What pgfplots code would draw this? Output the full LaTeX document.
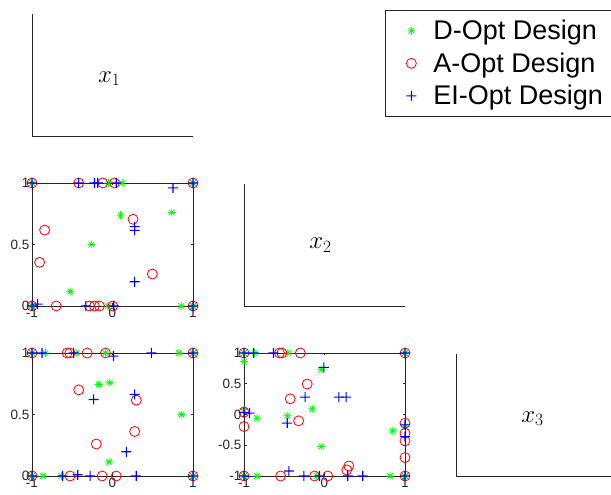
\documentclass[border=0pt]{standalone}
\usepackage{pgfplots}
\pgfplotsset{compat=1.18}
\usepackage{fontspec}
\setmainfont{Liberation Sans}
\definecolor{axgray}{rgb}{0.15,0.15,0.15}
\definecolor{mgreen}{rgb}{0,1,0}
\definecolor{mred}{rgb}{1,0,0}
\definecolor{mblue}{rgb}{0,0,1}
\pgfdeclareplotmark{mstar}{%
  \pgfpathmoveto{\pgfqpoint{-\pgfplotmarksize}{0pt}}\pgfpathlineto{\pgfqpoint{\pgfplotmarksize}{0pt}}%
  \pgfpathmoveto{\pgfqpoint{0pt}{-\pgfplotmarksize}}\pgfpathlineto{\pgfqpoint{0pt}{\pgfplotmarksize}}%
  \pgfpathmoveto{\pgfqpoint{-0.707\pgfplotmarksize}{-0.707\pgfplotmarksize}}\pgfpathlineto{\pgfqpoint{0.707\pgfplotmarksize}{0.707\pgfplotmarksize}}%
  \pgfpathmoveto{\pgfqpoint{-0.707\pgfplotmarksize}{0.707\pgfplotmarksize}}\pgfpathlineto{\pgfqpoint{0.707\pgfplotmarksize}{-0.707\pgfplotmarksize}}%
  \pgfusepathqstroke}
\pgfdeclareplotmark{fplus}{%
  \pgfpathrectangle{\pgfqpoint{-\pgfplotmarksize}{-0.55pt}}{\pgfqpoint{2\pgfplotmarksize}{1.1pt}}%
  \pgfpathrectangle{\pgfqpoint{-0.55pt}{-\pgfplotmarksize}}{\pgfqpoint{1.1pt}{2\pgfplotmarksize}}%
  \pgfusepathqfill}
\pgfplotsset{
  sc/.style={scale only axis, width=161pt, height=123pt, clip=false,
    xmin=-1, xmax=1, xtick={-1,0,1},
    tick align=inside, major tick length=2.5pt, axis line style={axgray, line width=0.6pt},
    tick style={axgray, line width=0.6pt},
    /pgf/number format/assume math mode=true,
    tick label style={font=\fontsize{13.5}{15}\selectfont, text=axgray},
    xticklabel style={yshift=1pt}, yticklabel style={xshift=1pt}},
  dg/.style={scale only axis, width=161pt, height=122pt, xmin=0, xmax=1, ymin=0, ymax=1,
    axis x line*=bottom, axis y line*=left, xtick=\empty, ytick=\empty,
    axis line style={axgray, line width=0.6pt}},
  dopt/.style={only marks, color=mgreen, mark=mstar, mark size=4pt, line width=0.8pt, mark options={solid}},
  aopt/.style={only marks, color=mred, mark=o, mark size=5pt, line width=0.8pt, mark options={solid}},
  eopt/.style={only marks, color=mblue, mark=fplus, mark size=5pt, mark options={solid,fill=mblue,draw=none}},
}
\begin{document}
\begin{tikzpicture}
\useasboundingbox (0pt,0pt) rectangle (611pt,495pt);
% diagonal x1
\begin{axis}[dg, at={(32pt,359pt)}, anchor=south west]
\node at (rel axis cs:0.48,0.47) {\fontsize{24}{26}\selectfont $x_1$};
\end{axis}
% P21
\begin{axis}[sc, at={(32pt,189pt)}, anchor=south west, ymin=0, ymax=1, ytick={0,0.5,1},
  legend style={at={(axis description cs:2.193,2.407)}, anchor=north west,
    font=\fontsize{27}{30}\selectfont, draw=axgray, line width=0.6pt,
    nodes={inner sep=2pt},
    row sep=7.5pt, inner xsep=8pt, inner ysep=8pt,
    /tikz/every odd column/.append style={column sep=2pt}},
  legend cell align=left,
  legend image code/.code={\path[draw=none,fill=none] (0pt,-1pt) -- (36pt,1pt);\draw[#1] plot coordinates {(18pt,0pt)};}]
\addplot[dopt] coordinates {(-1,1)(1,1)(-1,0)(1,0)(-0.05,1)(0.12,1)(-0.06,0)(0.855,0)(-0.263,0.5)(-0.524,0.117)(0.101,0.738)(0.735,0.76)};
\addlegendentry{D-Opt Design}
\addplot[aopt] coordinates {(-1,1)(1,1)(-1,0)(1,0)(-0.42,1)(-0.12,1)(0.025,1)(-0.843,0.617)(-0.905,0.355)(0.255,0.705)(0.495,0.26)(-0.70,0)(-0.286,0)(-0.224,0)(-0.162,0)(0.004,0)};
\addlegendentry{A-Opt Design}
\addplot[eopt] coordinates {(-1,1)(1,1)(-1,0)(1,0)(-0.42,1)(-0.224,1)(-0.183,1)(0.046,1)(0.751,0.96)(0.275,0.645)(0.275,0.615)(0.275,0.197)(-0.93,0.015)(-0.33,0)(0.016,0)};
\addlegendentry{EI-Opt Design}
\end{axis}
% diagonal x2
\begin{axis}[dg, at={(244pt,189pt)}, anchor=south west]
\node at (rel axis cs:0.475,0.5) {\fontsize{24}{26}\selectfont $x_2$};
\end{axis}
% P31
\begin{axis}[sc, at={(32pt,19pt)}, anchor=south west, ymin=0, ymax=1, ytick={0,0.5,1}]
\addplot[dopt] coordinates {(-1,1)(1,1)(-1,0)(1,0)(-0.834,1)(-0.445,1)(-0.087,1)(0.826,1)(-0.172,0.745)(-0.035,0.759)(0.855,0.499)(-0.044,0.115)(-0.863,0)(-0.635,0)};
\addplot[aopt] coordinates {(-1,1)(1,1)(-1,0)(1,0)(-0.564,1)(-0.53,1)(-0.315,1)(-0.087,1)(-0.42,0.70)(0.296,0.616)(0.275,0.362)(-0.201,0.26)(-0.527,0)(-0.128,0)(0.046,0)};
\addplot[eopt] coordinates {(-1,1)(1,1)(-1,0)(1,0)(-0.876,1)(-0.482,1)(0.012,0.975)(0.482,1)(-0.234,0.622)(0.275,0.663)(0.172,0.197)(-0.62,0)(-0.432,0.01)(-0.278,0)(0.295,0)};
\end{axis}
% P32
\begin{axis}[sc, at={(244pt,19pt)}, anchor=south west, ymin=-1, ymax=1, ytick={-1,-0.5,0,0.5,1}]
\addplot[dopt] coordinates {(-1,1)(1,1)(-1,-1)(1,-1)(-0.868,1)(-0.455,1)(-1,0.86)(-0.041,0.728)(-0.153,0.092)(-1,0.08)(-0.839,-0.06)(-0.463,-0.022)(-0.041,-0.522)(0.847,-0.266)(1,-0.2)(-0.839,-1)(-0.095,-1)(0.814,-1)};
\addplot[aopt] coordinates {(-1,1)(1,1)(-1,-1)(1,-1)(-0.56,1)(-0.53,1)(-0.30,1)(-0.215,0.495)(-0.426,0.255)(-1,0.038)(-1,-0.196)(-0.322,-0.103)(1,-0.141)(1,-0.304)(1,-0.43)(1,-0.70)(0.302,-0.837)(0.277,-0.902)(-0.545,-1)(-0.124,-1)(0.041,-1)};
\addplot[eopt] coordinates {(-1,1)(1,1)(-1,-1)(1,-1)(-0.88,1)(-0.634,1)(-1,0.03)(-0.93,0.022)(-0.008,0.766)(-0.24,0.283)(0.178,0.283)(0.269,0.283)(-0.463,-0.141)(1,-0.168)(1,-0.359)(-0.442,-0.918)(-0.256,-1)(-0.062,-1)(0.289,-1)(0.475,-1)};
\end{axis}
% diagonal x3
\begin{axis}[dg, at={(456pt,19pt)}, anchor=south west]
\node at (rel axis cs:0.475,0.47) {\fontsize{24}{26}\selectfont $x_3$};
\end{axis}
\end{tikzpicture}
\end{document}
